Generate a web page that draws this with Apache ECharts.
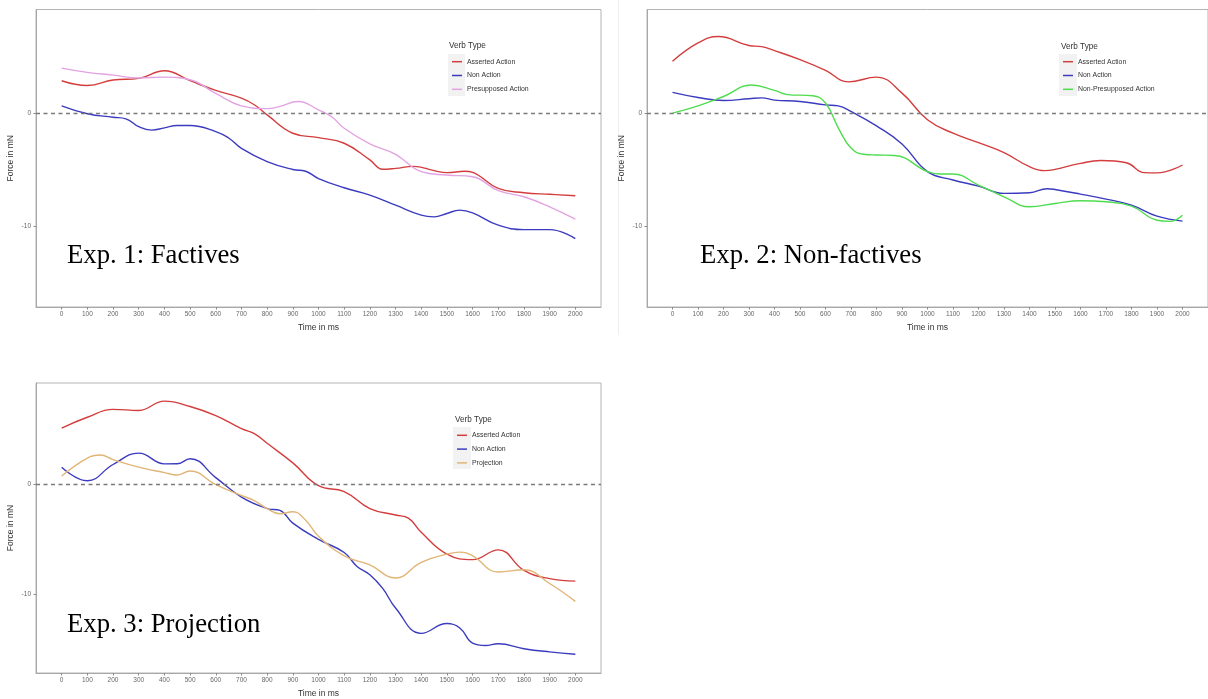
<!DOCTYPE html>
<html>
<head>
<meta charset="utf-8">
<script src="https://cdn.jsdelivr.net/npm/echarts@6/dist/echarts.min.js"></script>
<style>
html,body{margin:0;padding:0;background:#fff;}
#chart{width:1208px;height:699px;}
</style>
</head>
<body>
<div id="chart"></div>
<script>
// ---------- data (time in ms, force in mN) ----------
const xTicks = [0,100,200,300,400,500,600,700,800,900,1000,1100,1200,1300,1400,1500,1600,1700,1800,1900,2000];
const yTicks = [-10, 0];

// Exp. 1: Factives
const e1AssertedT = [0,100,200,300,400,500,600,700,750,800,900,1000,1100,1200,1250,1300,1370,1450,1500,1570,1600,1700,1800,1900,2000];
const e1AssertedV = [2.88,2.46,2.94,3.09,3.77,2.88,2.02,1.34,0.75,-0.15,-1.78,-2.17,-2.67,-4.15,-4.98,-4.9,-4.72,-5.1,-5.28,-5.15,-5.25,-6.68,-7.06,-7.2,-7.33];
const e1NonT = [0,100,200,250,300,350,400,450,500,600,650,700,800,900,950,1000,1100,1200,1300,1400,1450,1500,1550,1600,1700,1800,1900,2000];
const e1NonV = [0.65,-0.05,-0.36,-0.5,-1.2,-1.5,-1.3,-1.1,-1.1,-1.63,-2.2,-3.12,-4.3,-5.0,-5.15,-5.8,-6.62,-7.27,-8.16,-9.05,-9.2,-8.9,-8.6,-8.84,-9.94,-10.33,-10.33,-11.13];
const e1PresupT = [0,100,200,300,400,500,600,700,800,850,920,1000,1050,1100,1200,1300,1400,1500,1600,1700,1800,1900,2000];
const e1PresupV = [4.0,3.62,3.38,3.12,3.2,2.97,1.75,0.65,0.4,0.6,1.04,0.3,-0.3,-1.34,-2.73,-3.65,-5.19,-5.49,-5.64,-6.88,-7.42,-8.31,-9.41];

// Exp. 2: Non-factives
const e2AssertedT = [0,100,180,300,350,400,500,600,690,800,900,1000,1100,1200,1300,1400,1460,1500,1600,1680,1780,1850,1900,2000];
const e2AssertedV = [4.6,6.23,6.8,6.0,5.9,5.55,4.75,3.8,2.78,3.2,1.78,-0.59,-1.78,-2.61,-3.5,-4.75,-5.1,-4.99,-4.45,-4.2,-4.4,-5.28,-5.3,-4.6];
const e2NonT = [0,100,200,300,350,400,500,600,650,700,800,900,1000,1100,1200,1300,1400,1470,1500,1600,1700,1800,1900,2000];
const e2NonV = [1.84,1.39,1.13,1.28,1.36,1.16,1.04,0.74,0.65,0.15,-1.13,-2.73,-5.19,-5.93,-6.47,-7.12,-7.06,-6.7,-6.77,-7.18,-7.63,-8.16,-9.14,-9.58];
const e2NonPresupT = [0,100,200,310,400,450,550,600,650,700,750,800,870,1000,1050,1100,1200,1300,1400,1500,1600,1700,1800,1900,1950,2000];
const e2NonPresupV = [0,0.65,1.48,2.5,2.02,1.65,1.55,0.9,-1.3,-3.1,-3.65,-3.71,-3.75,-5.19,-5.4,-5.4,-6.38,-7.42,-8.31,-8.01,-7.77,-7.86,-8.25,-9.5,-9.6,-9.05];

// Exp. 3: Projection
const e3AssertedT = [0,100,200,300,400,500,600,700,750,800,900,1000,1100,1200,1300,1350,1400,1500,1600,1700,1800,1900,2000];
const e3AssertedV = [5.1,6.08,6.8,6.7,7.55,7.06,6.23,5.04,4.6,3.71,1.93,-0.15,-0.68,-2.23,-2.82,-3.1,-4.39,-6.38,-6.88,-5.99,-7.86,-8.61,-8.84];
const e3NonT = [0,100,200,300,400,450,500,600,700,800,850,900,1000,1100,1150,1200,1250,1300,1400,1500,1550,1600,1650,1700,1800,1900,2000];
const e3NonV = [1.54,0.3,1.78,2.82,1.84,1.85,2.31,0.59,-1.19,-2.23,-2.4,-3.56,-5.04,-6.23,-7.5,-8.25,-9.5,-11.28,-13.59,-12.7,-13.1,-14.48,-14.7,-14.54,-14.99,-15.28,-15.49];
const e3ProjT = [0,100,150,200,300,400,450,500,600,700,750,800,850,900,950,1000,1100,1200,1300,1400,1500,1550,1600,1700,1800,1900,2000];
const e3ProjV = [0.74,2.37,2.64,2.23,1.54,1.04,0.83,1.19,-0.06,-1.04,-1.5,-2.23,-2.7,-2.52,-3.3,-4.75,-6.53,-7.36,-8.55,-7.12,-6.38,-6.2,-6.53,-8.01,-7.8,-9.05,-10.68];

const panelLabels = ['Exp. 1: Factives', 'Exp. 2: Non-factives', 'Exp. 3: Projection'];
const legendTitle = 'Verb Type';

// ---------- styling ----------
const C_RED = '#d43d3d', C_BLUE = '#3b3bbf', C_PINK = '#e2a3e2', C_GREEN = '#4fdc4f', C_TAN = '#e0b575';
const SANS = '"Liberation Sans", Arial, Helvetica, sans-serif';
const SERIF = '"Liberation Serif", "Times New Roman", serif';

function pairs(t, v) { return t.map((x, i) => [x, v[i]]); }

const grids = [
  {left: 36, top: 9.5, width: 565, height: 297.5},
  {left: 647, top: 9.5, width: 565, height: 297.5},
  {left: 36, top: 383, width: 565, height: 297}
].map(g => Object.assign(g, {show: true, borderColor: '#b4b4b4', borderWidth: 1, backgroundColor: 'transparent', containLabel: false}));

const xAxes = grids.map((g, i) => ({
  type: 'value', gridIndex: i, min: -100, max: 2100, interval: 100,
  splitLine: {show: false},
  axisLine: {show: true, onZero: false, lineStyle: {color: '#a8a8a8', width: 1}},
  axisTick: {show: true, customValues: xTicks, length: 2.5, lineStyle: {color: '#8a8a8a'}},
  axisLabel: {customValues: xTicks, fontSize: 6.5, color: '#666', margin: 4, fontFamily: SANS,
              formatter: v => String(v)},
  name: 'Time in ms', nameLocation: 'middle', nameGap: 16,
  nameTextStyle: {fontSize: 8.5, color: '#333', fontFamily: SANS}
}));

const yAxes = grids.map((g, i) => ({
  type: 'value', gridIndex: i, min: -17.2, max: 9.2,
  splitLine: {show: false},
  axisLine: {show: true, onZero: false, lineStyle: {color: '#a8a8a8', width: 1}},
  axisTick: {show: true, customValues: yTicks, length: 2.5, lineStyle: {color: '#8a8a8a'}},
  axisLabel: {customValues: yTicks, fontSize: 6.5, color: '#666', margin: 5, fontFamily: SANS,
              formatter: v => String(v)},
  name: 'Force in mN', nameLocation: 'middle', nameGap: 21, nameRotate: 90,
  nameTextStyle: {fontSize: 8.5, color: '#333', fontFamily: SANS}
}));

const zeroLine = {
  silent: true, symbol: ['none', 'none'], label: {show: false},
  lineStyle: {type: [4, 3.5], color: '#7a7a7a', width: 1.4},
  emphasis: {disabled: true},
  data: [{yAxis: 0}]
};

function line(name, color, t, v, idx, withZero) {
  const s = {
    name, type: 'line', xAxisIndex: idx, yAxisIndex: idx,
    data: pairs(t, v), smooth: 0.45, showSymbol: false, symbol: 'none',
    color, lineStyle: {color, width: 1.4}, itemStyle: {color},
    emphasis: {disabled: true}, animation: false, z: 3
  };
  if (withZero) s.markLine = zeroLine;
  return s;
}

const series = [
  line('Asserted Action', C_RED, e1AssertedT, e1AssertedV, 0, true),
  line('Non Action', C_BLUE, e1NonT, e1NonV, 0),
  line('Presupposed Action', C_PINK, e1PresupT, e1PresupV, 0),
  line('Asserted Action', C_RED, e2AssertedT, e2AssertedV, 1, true),
  line('Non Action', C_BLUE, e2NonT, e2NonV, 1),
  line('Non-Presupposed Action', C_GREEN, e2NonPresupT, e2NonPresupV, 1),
  line('Asserted Action', C_RED, e3AssertedT, e3AssertedV, 2, true),
  line('Non Action', C_BLUE, e3NonT, e3NonV, 2),
  line('Projection', C_TAN, e3ProjT, e3ProjV, 2)
];

function legend(left, top, names) {
  return {
    orient: 'vertical', left, top, padding: 0, itemWidth: 10, itemHeight: 1.5, itemGap: 3.8,
    icon: 'rect', selectedMode: false,
    textStyle: {fontSize: 6.9, color: '#333', lineHeight: 10, fontFamily: SANS},
    data: names
  };
}

const legends = [
  legend(452, 56.7, ['Asserted Action', 'Non Action', 'Presupposed Action']),
  legend(1063, 56.7, ['Asserted Action', 'Non Action', 'Non-Presupposed Action']),
  legend(457, 430.3, ['Asserted Action', 'Non Action', 'Projection'])
];

const graphics = [
  {type: 'line', shape: {x1: 618.5, y1: 0, x2: 618.5, y2: 335}, style: {stroke: '#efefef', lineWidth: 1}, silent: true},
  {type: 'rect', shape: {x: 448, y: 54, width: 17, height: 42}, style: {fill: '#f2f2f2'}, z: -1, silent: true},
  {type: 'rect', shape: {x: 1059, y: 54, width: 18, height: 42}, style: {fill: '#f2f2f2'}, z: -1, silent: true},
  {type: 'rect', shape: {x: 453, y: 427, width: 18, height: 42}, style: {fill: '#f2f2f2'}, z: -1, silent: true},
  {type: 'text', x: 449, y: 46, style: {text: legendTitle, font: '8.2px ' + SANS, fill: '#333', textVerticalAlign: 'middle'}, silent: true},
  {type: 'text', x: 1061, y: 46.7, style: {text: legendTitle, font: '8.2px ' + SANS, fill: '#333', textVerticalAlign: 'middle'}, silent: true},
  {type: 'text', x: 455, y: 420, style: {text: legendTitle, font: '8.2px ' + SANS, fill: '#333', textVerticalAlign: 'middle'}, silent: true},
  {type: 'text', x: 67, y: 256, style: {text: panelLabels[0], font: '26.7px ' + SERIF, fill: '#000', textVerticalAlign: 'middle'}, silent: true},
  {type: 'text', x: 700, y: 256, style: {text: panelLabels[1], font: '26.7px ' + SERIF, fill: '#000', textVerticalAlign: 'middle'}, silent: true},
  {type: 'text', x: 67, y: 624.5, style: {text: panelLabels[2], font: '26.7px ' + SERIF, fill: '#000', textVerticalAlign: 'middle'}, silent: true}
];

const chart = echarts.init(document.getElementById('chart'), null, {renderer: 'canvas'});
chart.setOption({
  animation: false,
  backgroundColor: '#fff',
  grid: grids,
  xAxis: xAxes,
  yAxis: yAxes,
  legend: legends,
  series: series,
  graphic: graphics
});
</script>
</body>
</html>
